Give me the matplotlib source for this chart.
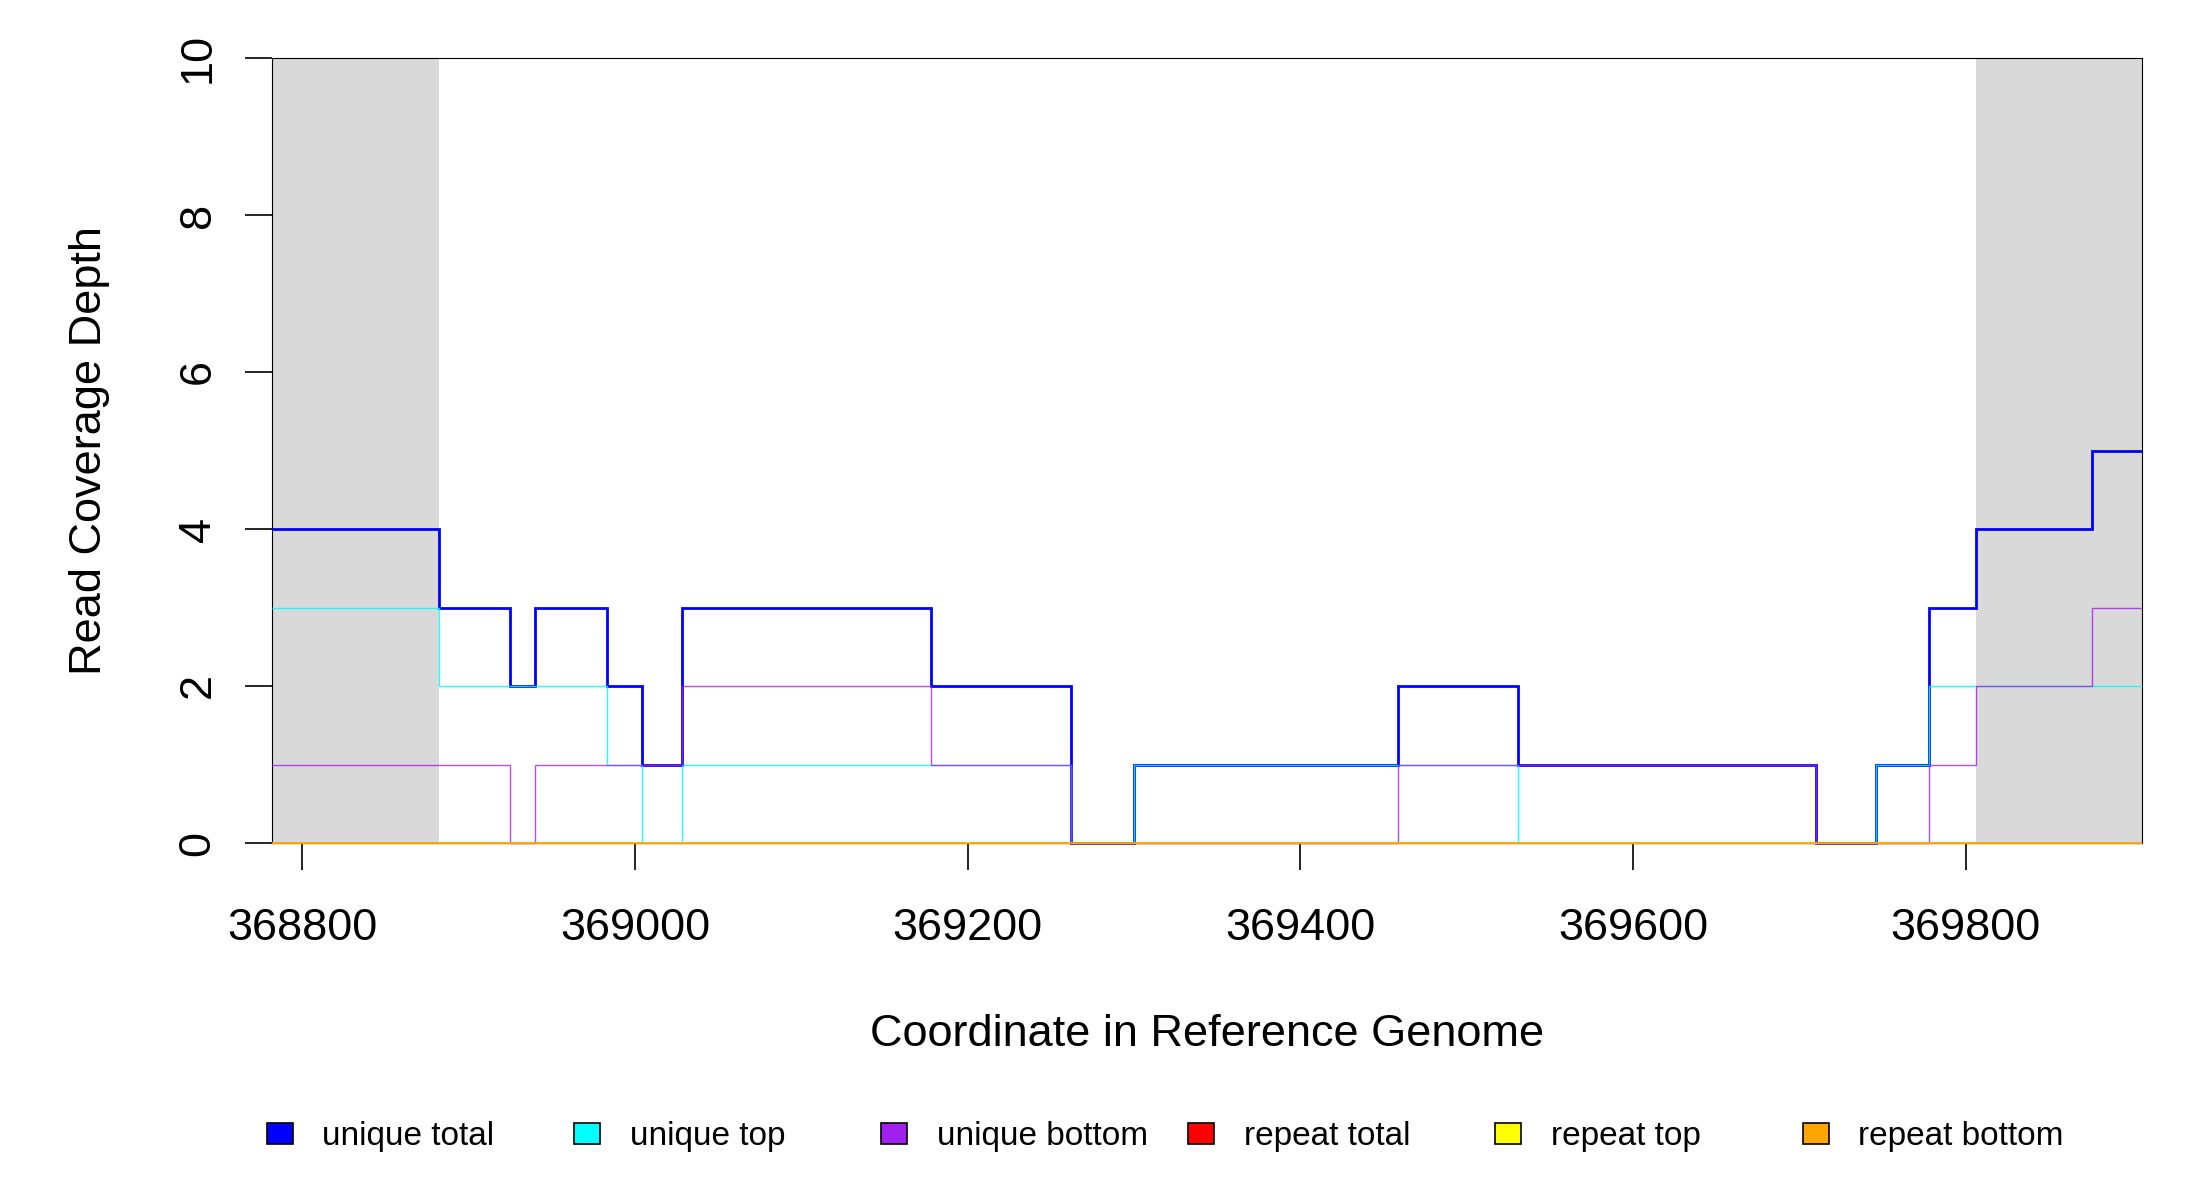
import matplotlib
matplotlib.use("Agg")
import matplotlib.pyplot as plt
from matplotlib.patches import Rectangle

plt.rcParams["font.family"] = ["Liberation Sans", "DejaVu Sans"]

# segment edges along the reference (bp)
edges = [368782, 368882, 368925, 368940, 368983, 369004, 369028, 369178,
         369262, 369300, 369459, 369531, 369710, 369746, 369778, 369806,
         369876, 369906]

# coverage per segment
unique_total = [4, 3, 2, 3, 2, 1, 3, 2, 0, 1, 2, 1, 0, 1, 3, 4, 5]
unique_top = [3, 2, 2, 2, 1, 0, 1, 1, 0, 1, 1, 0, 0, 1, 2, 2, 2]
unique_bottom = [1, 1, 0, 1, 1, 1, 2, 1, 0, 0, 1, 1, 0, 0, 1, 2, 3]
repeat_total = [0] * 17
repeat_top = [0] * 17
repeat_bottom = [0] * 17

# flanking regions shaded grey
left_flank = (368782, 368882)
right_flank = (369806, 369906)

x_ticks = [368800, 369000, 369200, 369400, 369600, 369800]
y_ticks = [0, 2, 4, 6, 8, 10]

labels = ["unique total", "unique top", "unique bottom",
          "repeat total", "repeat top", "repeat bottom"]
colors = ["#0000FF", "#00FFFF", "#A020F0", "#FF0000", "#FFFF00", "#FFA500"]

W, H = 2200, 1200
fig = plt.figure(figsize=(22, 12), dpi=100)
ax = fig.add_axes([272 / W, 1 - 843 / H, 1870 / W, 785 / H])

ax.axvspan(*left_flank, color="#D9D9D9", lw=0, zorder=0)
ax.axvspan(*right_flank, color="#D9D9D9", lw=0, zorder=0)

series = [unique_total, unique_top, unique_bottom,
          repeat_total, repeat_top, repeat_bottom]
widths = [2.0, 1.0, 1.0, 1.0, 1.0, 1.4]
alphas = [1.0, 0.85, 0.8, 0.6, 0.6, 0.85]
for vals, c, lw, a in zip(series, colors, widths, alphas):
    ax.stairs(vals, edges, baseline=None, color=c, lw=lw, alpha=a,
              zorder=2, clip_on=False)

ax.set_xlim(368781.8, 369906)
ax.set_ylim(0, 10)
ax.set_xticks(x_ticks)
ax.set_xticklabels([str(t) for t in x_ticks])
ax.set_yticks(y_ticks)
ax.set_yticklabels([str(t) for t in y_ticks], rotation=90, va="center")

for s in ax.spines.values():
    s.set_linewidth(0.8)
    s.set_color("black")
    s.set_zorder(1.5)

ax.tick_params(axis="both", length=19.5, width=1.2, labelsize=32.5, color="black")
ax.tick_params(axis="x", pad=27)
ax.tick_params(axis="y", pad=19)

ax.set_xlabel("Coordinate in Reference Genome", fontsize=32.5)
ax.xaxis.label.set_va("center")
ax.xaxis.set_label_coords(0.5, (843 - 1034) / 785)
ax.set_ylabel("Read Coverage Depth", fontsize=32.5)
ax.yaxis.label.set_va("center")
ax.yaxis.label.set_ha("center")
ax.yaxis.set_label_coords((90 - 272) / 1870, 0.5)

# horizontal legend, equal slots like R's legend(horiz=TRUE)
for k, (lab, c) in enumerate(zip(labels, colors)):
    x0 = 267 + k * 307.1
    fig.patches.append(Rectangle((x0 / W, 1 - 1143.5 / H), 26 / W, 21 / H,
                                 transform=fig.transFigure, facecolor=c,
                                 edgecolor="black", lw=1.2))
    fig.text((x0 + 55.5) / W, 1 - 1145 / H, lab, fontsize=24, va="baseline",
             ha="left")

fig.savefig("out.png", dpi=100, facecolor="white")
